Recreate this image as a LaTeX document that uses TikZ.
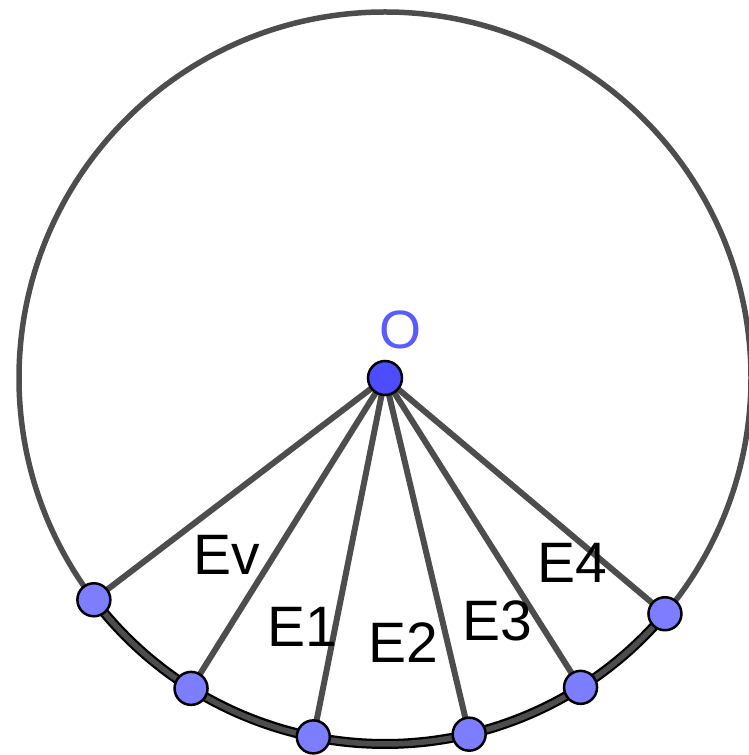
\documentclass[tikz,border=0pt]{standalone}
\usepackage{fontspec}
\setmainfont{Liberation Sans}
\definecolor{edgegray}{RGB}{77,77,77}
\definecolor{ptfill}{RGB}{125,125,255}
\definecolor{ofill}{RGB}{77,77,255}
\definecolor{olabel}{RGB}{90,90,255}
\begin{document}
\begin{tikzpicture}[x=1pt,y=1pt,
  circ/.style={draw=edgegray,line width=5.5pt},
  radial/.style={draw=edgegray,line width=6pt},
  bold/.style={draw=black,line width=10pt},
  pt/.style={circle,draw=black,line width=2.5pt,fill=ptfill,minimum size=33pt,inner sep=0pt},
  opt/.style={circle,draw=black,line width=2.5pt,fill=ofill,minimum size=34pt,inner sep=0pt},
  lab/.style={font=\fontsize{57}{60}\selectfont,inner sep=0pt,anchor=base}]
\useasboundingbox (0,0) rectangle (749,755);
\coordinate (O) at (385,377);
\coordinate (P1) at ([shift={(217.3:366)}]O);
\coordinate (P2) at ([shift={(238.0:366)}]O);
\coordinate (P3) at ([shift={(258.7:366)}]O);
\coordinate (P4) at ([shift={(283.3:366)}]O);
\coordinate (P5) at ([shift={(302.3:366)}]O);
\coordinate (P6) at ([shift={(319.9:366)}]O);
% bold arc between the outer points
\draw[bold] (P1) arc[start angle=217.3,end angle=319.9,radius=366];
% circle
\draw[circ] (O) circle[radius=366];
% radial segments
\foreach \p in {P1,P2,P3,P4,P5,P6}{\draw[radial] (O) -- (\p);}
% points
\foreach \p in {P1,P2,P3,P4,P5,P6}{\node[pt] (n\p) at (\p) {};}
\node[opt] (nO) at (O) {};
% labels
\node[lab,text=olabel,font=\fontsize{54}{58}\selectfont] (lO) at (400,406) {O};
\node[lab] (lEv) at (226.5,180) {Ev};
\node[lab] (lE1) at (302.5,108) {E1};
\node[lab] (lE2) at (403.5,92) {E2};
\node[lab] (lE3) at (497,114) {E3};
\node[lab] (lE4) at (572.5,172) {E4};
\end{tikzpicture}
\end{document}
